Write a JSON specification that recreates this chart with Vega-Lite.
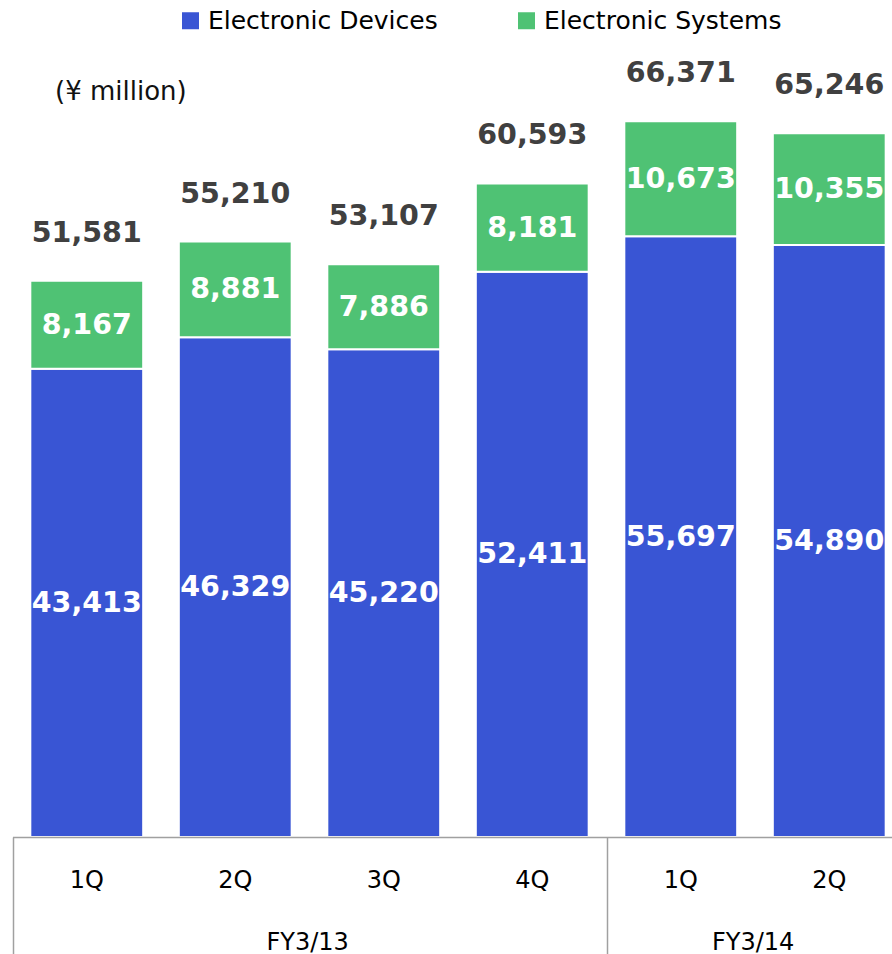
{
  "$schema": "https://vega.github.io/schema/vega-lite/v6.json",
  "width": 892,
  "height": 837,
  "autosize": {"type": "none"},
  "padding": {"left": 0, "top": 0, "right": 0, "bottom": 117},
  "background": "white",
  "config": {"font": "DejaVu Sans", "view": {"stroke": null}},
  "title": {"text": "(¥ million)", "anchor": "start", "frame": "group", "orient": "top", "offset": -118, "dx": 55, "fontSize": 26, "fontWeight": "normal", "color": "#111111", "font": "DejaVu Sans", "baseline": "middle"},
  "datasets": {
    "segments": [
      {"key": "FY3/13|1Q", "segment": "Electronic Devices", "value": 43413},
      {"key": "FY3/13|1Q", "segment": "Electronic Systems", "value": 8167},
      {"key": "FY3/13|2Q", "segment": "Electronic Devices", "value": 46329},
      {"key": "FY3/13|2Q", "segment": "Electronic Systems", "value": 8881},
      {"key": "FY3/13|3Q", "segment": "Electronic Devices", "value": 45220},
      {"key": "FY3/13|3Q", "segment": "Electronic Systems", "value": 7886},
      {"key": "FY3/13|4Q", "segment": "Electronic Devices", "value": 52411},
      {"key": "FY3/13|4Q", "segment": "Electronic Systems", "value": 8181},
      {"key": "FY3/14|1Q", "segment": "Electronic Devices", "value": 55697},
      {"key": "FY3/14|1Q", "segment": "Electronic Systems", "value": 10673},
      {"key": "FY3/14|2Q", "segment": "Electronic Devices", "value": 54890},
      {"key": "FY3/14|2Q", "segment": "Electronic Systems", "value": 10355}
    ],
    "totals": [
      {"key": "FY3/13|1Q", "total": 51581},
      {"key": "FY3/13|2Q", "total": 55210},
      {"key": "FY3/13|3Q", "total": 53107},
      {"key": "FY3/13|4Q", "total": 60593},
      {"key": "FY3/14|1Q", "total": 66371},
      {"key": "FY3/14|2Q", "total": 65246}
    ]
  },
  "resolve": {"axis": {"x": "independent"}},
  "layer": [
    {
      "data": {"name": "segments"},
      "mark": {"type": "bar", "stroke": "white", "strokeWidth": 2},
      "encoding": {
        "x": {
          "field": "key", "type": "nominal", "sort": null,
          "scale": {"domain": ["FY3/13|1Q", "FY3/13|2Q", "FY3/13|3Q", "FY3/13|4Q", "FY3/14|1Q", "FY3/14|2Q"], "range": [12.5, 903.5], "paddingInner": 0.24, "paddingOuter": 0.12},
          "axis": {"orient": "bottom", "domain": true, "domainColor": "#a0a0a0", "domainWidth": 1.5, "ticks": false, "labelExpr": "split(datum.value, '|')[1]", "labelFont": "DejaVu Sans", "labelFontSize": 24, "labelColor": "#000000", "labelPadding": 31, "labelAngle": 0, "labelAlign": "center", "labelOverlap": false, "title": null, "zindex": 1}
        },
        "y": {"field": "value", "type": "quantitative", "stack": "zero", "scale": {"domain": [0, 77600], "nice": false, "zero": true}, "axis": null},
        "order": {"field": "segment", "type": "nominal", "sort": "ascending"},
        "color": {
          "field": "segment", "type": "nominal",
          "scale": {"domain": ["Electronic Devices", "Electronic Systems"], "range": ["#3955D4", "#4FC274"]},
          "legend": {"orient": "none", "legendX": 178, "legendY": 8, "direction": "horizontal", "title": null, "symbolType": "square", "symbolSize": 289, "symbolStrokeWidth": 0, "labelFont": "DejaVu Sans", "labelFontSize": 25, "labelColor": "#000000", "labelOffset": 5, "labelLimit": 0, "columnPadding": 76}
        }
      }
    },
    {
      "data": {"name": "segments"},
      "mark": {"type": "text", "color": "white", "fontWeight": "bold", "fontSize": 28.5, "baseline": "middle"},
      "encoding": {
        "x": {
          "field": "key", "type": "nominal", "sort": null,
          "axis": {"orient": "bottom", "bandPosition": 0, "domain": false, "ticks": true, "tickSize": 117, "tickWidth": 1.5, "tickOffset": -17.8, "labelOffset": -58.8, "tickColor": {"condition": {"test": "datum.value === 'FY3/13|1Q' || datum.value === 'FY3/14|1Q'", "value": "#a0a0a0"}, "value": "transparent"}, "labelExpr": "datum.value === 'FY3/13|3Q' ? 'FY3/13' : (datum.value === 'FY3/14|2Q' ? 'FY3/14' : '')", "labelFont": "DejaVu Sans", "labelFontSize": 24, "labelColor": "#000000", "labelPadding": -24, "labelAngle": 0, "labelOverlap": false, "title": null}
        },
        "y": {"field": "value", "type": "quantitative", "stack": "zero", "bandPosition": 0.5},
        "order": {"field": "segment", "type": "nominal", "sort": "ascending"},
        "detail": {"field": "segment"},
        "text": {"field": "value", "type": "quantitative", "format": ","}
      }
    },
    {
      "data": {"name": "totals"},
      "mark": {"type": "text", "color": "#404040", "fontWeight": "bold", "fontSize": 28.5, "baseline": "middle", "dy": -48},
      "encoding": {
        "x": {"field": "key", "type": "nominal", "sort": null, "axis": null},
        "y": {"field": "total", "type": "quantitative"},
        "text": {"field": "total", "type": "quantitative", "format": ","}
      }
    }
  ]
}
